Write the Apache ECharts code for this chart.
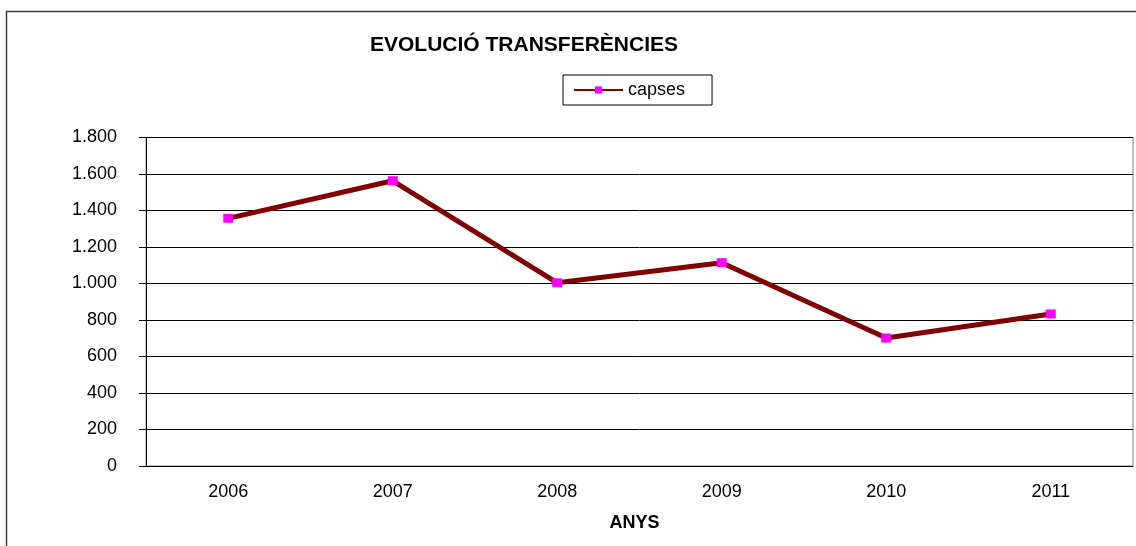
<!DOCTYPE html>
<html>
<head>
<meta charset="utf-8">
<script src="https://cdn.jsdelivr.net/npm/echarts@6/dist/echarts.min.js"></script>
<style>
  html, body { margin: 0; padding: 0; background: #fff; }
  #main { width: 1136px; height: 546px; }
</style>
</head>
<body>
<div id="main"></div>
<script>
const years = ["2006", "2007", "2008", "2009", "2010", "2011"];
const capses = [1357, 1563, 1004, 1114, 701, 833];

const font = "'Liberation Sans', Arial, sans-serif";
const fmt = (v) => String(v).replace(/\B(?=(\d{3})+(?!\d))/g, ".");

const myChart = echarts.init(document.getElementById("main"));
const option = {
  animation: false,
  backgroundColor: "#fff",
  textStyle: { fontFamily: font },
  graphic: [
    {
      type: "rect",
      shape: { x: 6.5, y: 11.5, width: 1300, height: 700 },
      style: { fill: null, stroke: "#404040", lineWidth: 1.5 },
      silent: true,
    },
  ],
  title: {
    text: "EVOLUCIÓ TRANSFERÈNCIES",
    left: 519,
    textAlign: "center",
    top: 30,
    textStyle: { fontFamily: font, fontSize: 21, fontWeight: "bold", color: "#000" },
  },
  legend: {
    left: 563,
    top: 75,
    padding: [6, 27, 6, 10],
    borderColor: "#000",
    borderWidth: 1,
    itemWidth: 49,
    itemHeight: 9,
    itemGap: 4,
    textStyle: { fontFamily: font, fontSize: 18, color: "#000" },
    data: ["capses"],
  },
  grid: {
    left: 146,
    right: 3,
    top: 137.5,
    bottom: 80,
    show: true,
    borderColor: "#808080",
    borderWidth: 1,
  },
  xAxis: {
    type: "category",
    data: years,
    boundaryGap: true,
    name: "ANYS",
    nameLocation: "middle",
    nameGap: 48,
    nameTextStyle: {
      fontFamily: font,
      fontSize: 18,
      fontWeight: "bold",
      color: "#000",
      padding: [0, 10, 0, 0],
    },
    axisLine: { lineStyle: { color: "#000", width: 1 } },
    axisTick: { alignWithLabel: false, length: 6, lineStyle: { color: "#000" } },
    axisLabel: { margin: 17, fontSize: 18, color: "#000", fontFamily: font },
    splitLine: { show: false },
  },
  yAxis: {
    type: "value",
    min: 0,
    max: 1800,
    interval: 200,
    axisLine: { show: true, lineStyle: { color: "#000", width: 1 } },
    axisTick: { show: true, length: 7, lineStyle: { color: "#000" } },
    axisLabel: { margin: 29, fontSize: 18, color: "#000", fontFamily: font, formatter: fmt },
    splitLine: { show: true, lineStyle: { color: "#000", width: 1 } },
  },
  series: [
    {
      name: "capses",
      type: "line",
      data: capses,
      symbol: "rect",
      symbolSize: [10, 9],
      lineStyle: { color: "#800000", width: 5 },
      itemStyle: { color: "#FF00FF", borderWidth: 0 },
      emphasis: { disabled: true },
    },
  ],
};
option && myChart.setOption(option);
</script>
</body>
</html>
